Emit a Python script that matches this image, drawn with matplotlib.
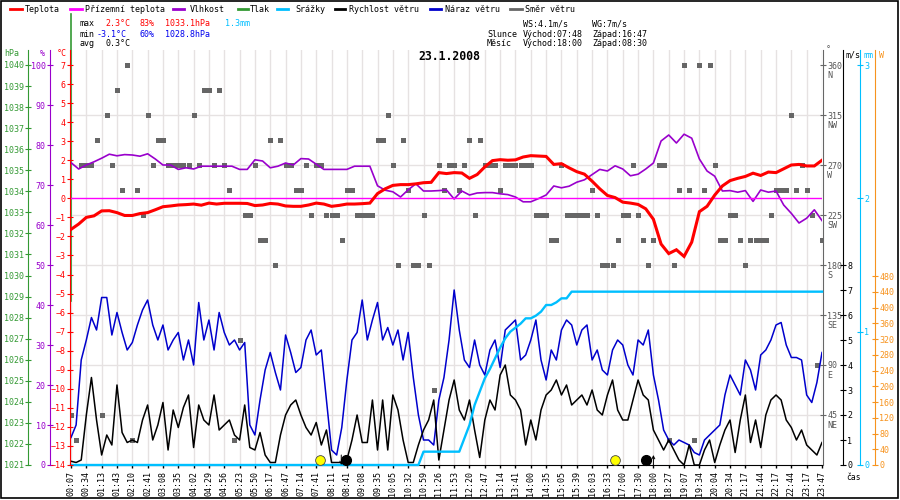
import numpy as np
import matplotlib
matplotlib.use("Agg")
import matplotlib.pyplot as plt
import matplotlib.transforms as mtransforms
from matplotlib.lines import Line2D
from matplotlib.patches import Rectangle

plt.rcParams['font.family'] = ['DejaVu Sans Mono', 'DejaVu Sans']
plt.rcParams['font.size'] = 6

# ---------------- data ----------------
tick_labels = ["00:07", "00:34", "01:13", "01:43", "02:10", "02:41", "03:08", "03:35", "04:02", "04:29",
               "04:56", "05:23", "05:50", "06:17", "06:47", "07:14", "07:41", "08:11", "08:41", "09:08",
               "09:35", "10:05", "10:32", "10:59", "11:26", "11:53", "12:20", "12:47", "13:14", "13:41",
               "14:00", "14:35", "15:05", "15:39", "16:03", "16:33", "17:00", "17:30", "18:00", "18:27",
               "19:07", "19:34", "20:04", "20:34", "21:17", "21:44", "22:17", "22:44", "23:17", "23:47"]

# temperature (deg C), two samples per tick interval
teplota = [-1.63, -1.35, -1.0, -0.92, -0.66, -0.65, -0.75, -0.9, -0.9, -0.8,
           -0.75, -0.6, -0.44, -0.4, -0.35, -0.33, -0.3, -0.36, -0.25, -0.3,
           -0.26, -0.26, -0.26, -0.27, -0.38, -0.35, -0.27, -0.3, -0.4, -0.42,
           -0.42, -0.35, -0.25, -0.3, -0.42, -0.37, -0.3, -0.3, -0.28, -0.25,
           0.25, 0.5, 0.68, 0.72, 0.72, 0.76, 0.82, 0.84, 1.35, 1.3,
           1.35, 1.33, 1.05, 1.25, 1.65, 1.98, 2.03, 2.0, 2.02, 2.17,
           2.24, 2.22, 2.2, 1.78, 1.82, 1.6, 1.4, 1.27, 0.9, 0.5,
           0.15, 0.04, -0.2, -0.25, -0.32, -0.55, -1.1, -2.4, -2.9, -2.7,
           -3.05, -2.3, -0.7, -0.42, 0.17, 0.65, 0.93, 1.05, 1.15, 1.32,
           1.2, 1.38, 1.35, 1.55, 1.75, 1.78, 1.7, 1.7, 2.0]
prizemni = [0.0] * 99
# humidity (%)
vlhkost = [75.6, 74.0, 75.0, 75.8, 76.7, 77.7, 77.3, 77.6, 77.5, 77.2,
           77.8, 76.5, 75.0, 75.0, 73.9, 74.3, 74.0, 74.7, 74.7, 74.7,
           74.7, 74.7, 73.9, 73.9, 76.3, 76.0, 74.3, 74.7, 75.5, 75.0,
           76.6, 76.5, 75.2, 73.9, 73.9, 73.9, 73.9, 74.7, 74.7, 74.7,
           69.8, 68.7, 68.3, 67.0, 68.8, 70.3, 68.5, 68.5, 68.6, 68.75,
           66.5, 68.5, 67.5, 68.0, 68.1, 68.1, 67.8, 67.6, 67.0, 65.8,
           65.8, 66.6, 67.5, 69.75, 69.3, 69.7, 70.7, 71.3, 72.6, 73.9,
           73.5, 74.8, 74.0, 72.3, 72.7, 74.0, 75.5, 81.0, 82.5, 80.5,
           82.7, 81.7, 76.5, 73.5, 72.2, 68.5, 68.6, 68.2, 68.6, 65.9,
           68.75, 68.2, 68.5, 65.0, 62.9, 60.5, 61.7, 63.8, 61.1]
# pressure (hPa) - drawn as the vertical green stroke at the start
tlak = [1028.8, 1042.4]
# wind gust (m/s), three samples per tick interval
naraz = [1.1, 1.6, 4.2, 5.0, 5.9, 5.4, 6.7, 6.7, 5.2, 6.1,
         5.3, 4.6, 4.9, 5.6, 6.2, 6.6, 5.6, 5.0, 5.6, 4.6,
         5.0, 5.3, 4.2, 5.0, 4.0, 6.5, 5.0, 5.8, 4.6, 6.1,
         5.3, 4.8, 5.0, 4.6, 4.9, 1.6, 1.2, 2.6, 3.8, 4.5,
         3.7, 3.0, 5.2, 4.5, 3.7, 3.9, 5.0, 5.4, 4.4, 4.6,
         2.6, 0.6, 0.4, 1.5, 3.4, 5.0, 5.3, 6.6, 5.0, 5.8,
         6.5, 5.0, 5.5, 4.8, 5.4, 4.2, 5.3, 3.5, 2.0, 1.0,
         1.0, 0.8, 2.6, 3.5, 5.0, 7.0, 5.4, 4.2, 3.9, 5.0,
         4.0, 3.6, 4.6, 5.0, 3.9, 5.4, 5.6, 5.8, 4.2, 4.4,
         5.0, 5.8, 4.2, 3.4, 4.6, 4.2, 5.4, 5.8, 5.6, 4.8,
         5.4, 5.6, 4.2, 4.6, 3.8, 3.6, 4.6, 5.0, 4.8, 4.0,
         3.6, 5.0, 4.8, 5.4, 3.6, 2.6, 1.4, 1.0, 0.8, 1.0,
         0.9, 0.8, 0.5, 0.4, 1.0, 1.2, 1.4, 1.6, 2.8, 3.6,
         3.2, 2.8, 4.2, 3.8, 3.0, 4.4, 4.6, 5.0, 5.6, 5.7,
         4.8, 4.3, 4.3, 4.2, 2.8, 2.5, 3.3, 4.5]
# wind speed (m/s)
rychlost = [0.15, 0.1, 0.2, 2.0, 3.5, 1.8, 0.4, 1.2, 0.8, 3.2,
            1.3, 0.9, 1.0, 0.9, 1.8, 2.4, 1.0, 1.6, 2.5, 0.6,
            2.2, 1.5, 2.3, 2.8, 0.7, 2.4, 1.8, 1.6, 2.8, 1.4,
            1.6, 1.8, 1.2, 1.0, 2.4, 0.7, 0.6, 1.3, 0.4, 0.1,
            0.1, 1.2, 2.0, 2.4, 2.6, 2.0, 1.5, 1.2, 1.7, 0.8,
            1.4, 0.1, 0.1, 0.1, 0.2, 1.0, 2.0, 0.9, 0.9, 2.6,
            0.6, 2.6, 0.6, 2.8, 2.2, 1.0, 0.1, 0.1, 0.8, 1.4,
            1.8, 2.6, 0.2, 1.4, 2.6, 3.4, 2.2, 1.8, 2.6, 1.4,
            0.3, 1.8, 2.6, 2.2, 3.6, 4.0, 2.8, 2.6, 2.2, 0.8,
            1.8, 1.0, 2.2, 2.8, 3.0, 3.4, 2.8, 3.2, 2.4, 2.6,
            2.8, 2.4, 3.0, 2.2, 2.0, 2.8, 3.4, 2.2, 1.8, 1.8,
            2.6, 3.4, 2.8, 2.6, 1.4, 1.0, 0.6, 1.0, 0.6, 0.2,
            0.0, 0.8, 0.0, 0.0, 0.6, 1.0, 0.1, 0.8, 1.4, 1.8,
            0.5, 1.8, 2.8, 0.9, 1.8, 0.7, 2.0, 2.6, 2.8, 2.6,
            1.8, 1.5, 1.0, 1.4, 0.8, 0.6, 0.4, 0.9]
# wind direction (deg)
smer = [45, 22.5, 270, 270, 270, 292.5, 45, 315, 270, 337.5,
        247.5, 360, 22.5, 247.5, 225, 315, 270, 292.5, 292.5, 270,
        270, 270, 270, 270, 315, 270, 337.5, 337.5, 270, 337.5,
        270, 247.5, 22.5, 112.5, 225, 225, 270, 202.5, 202.5, 292.5,
        180, 292.5, 270, 270, 247.5, 247.5, 270, 225, 270, 270,
        225, 225, 225, 202.5, 247.5, 247.5, 225, 225, 225, 225,
        292.5, 292.5, 315, 270, 180, 292.5, 247.5, 180, 180, 225,
        180, 67.5, 270, 247.5, 270, 270, 247.5, 270, 292.5, 225,
        292.5, 270, 270, 270, 247.5, 270, 270, 270, 270, 270,
        270, 225, 225, 225, 202.5, 202.5, 270, 225, 225, 225,
        225, 225, 247.5, 225, 180, 180, 180, 202.5, 225, 225,
        270, 225, 202.5, 180, 202.5, 270, 270, 22.5, 180, 247.5,
        360, 247.5, 22.5, 360, 247.5, 360, 270, 202.5, 202.5, 225,
        225, 202.5, 180, 202.5, 202.5, 202.5, 202.5, 225, 247.5, 247.5,
        247.5, 315, 247.5, 270, 247.5, 225, 90, 202.5]
# cumulative precipitation (mm)
srazky = ([0.0] * 69 + [0.1] * 8 +
          [0.2, 0.3, 0.45, 0.55, 0.65, 0.72, 0.8, 0.88, 0.95, 1.0,
           1.03, 1.06, 1.1, 1.1, 1.12, 1.15, 1.2, 1.2, 1.22, 1.25, 1.25] +
          [1.3] * 50)

sun_events = ["07:48", "16:47"]
moon_rise = "18:00"
moon_set = "08:30"

# ---------------- figure ----------------
W, H = 900, 500
L, R, B, T = 71, 822, 465, 50
fig = plt.figure(figsize=(9, 5), dpi=100)
fig.patch.set_facecolor('white')

GRID = '#e6e2e2'
C_T, C_PT, C_H, C_P = '#ff0000', '#ff00ff', '#9900cc', '#339933'
C_R, C_WS, C_WG, C_D, C_O = '#00bfff', '#000000', '#0000cc', '#666666', '#f7931e'

x_half = np.arange(len(teplota)) / 2.0
x_third = np.arange(len(naraz)) / 3.0
tick_pos = np.arange(len(tick_labels))
tick_min = np.array([int(s[:2]) * 60 + int(s[3:]) for s in tick_labels])


def t2x(s):
    return float(np.interp(int(s[:2]) * 60 + int(s[3:]), tick_min, tick_pos))


ax_d = fig.add_axes([L / W, 1 - B / H, (R - L) / W, (B - T) / H])
ax_d.set_zorder(0)
ax_d.set_xlim(tick_pos[0], tick_pos[-1])


def ypos(px):
    return (px - L) / (R - L)


def twin(z):
    a = ax_d.twinx()
    a.set_zorder(z)
    a.patch.set_visible(False)
    for s in a.spines.values():
        s.set_visible(False)
    return a


ax_w = twin(1)
ax_r = twin(2)
ax_o = twin(3)
ax_p = twin(4)
ax_h = twin(5)
ax_t = twin(6)

# host: direction
ax_d.set_ylim(0, 373.5)
for s in ['left', 'top']:
    ax_d.spines[s].set_visible(False)
ax_d.spines['right'].set_color(C_D)
ax_d.spines['right'].set_position(('axes', ypos(823)))
ax_d.spines['bottom'].set_color('black')
deg_ticks = [45, 90, 135, 180, 225, 270, 315, 360]
deg_names = ['NE', 'E', 'SE', 'S', 'SW', 'W', 'NW', 'N']
ax_d.yaxis.tick_right()
ax_d.set_yticks(deg_ticks)
ax_d.set_yticklabels([str(d) for d in deg_ticks])
ax_d.tick_params(axis='y', direction='inout', length=4, width=0.8, colors=C_D, labelcolor='#555555', pad=1, labelsize=6)
ax_d.set_xticks(tick_pos)
ax_d.set_xticklabels(tick_labels)
ax_d.tick_params(axis='x', direction='out', length=2, width=1, pad=2, labelrotation=90, labelsize=6)
ax_d.grid(True, color=GRID, lw=1, zorder=0)
ax_d.yaxis.grid(False)
for d in deg_ticks[:-1]:
    ax_d.axhline(d, color=GRID, lw=1, zorder=0)
off = mtransforms.ScaledTranslation(4 / 100, -10 / 100, fig.dpi_scale_trans)
bt = mtransforms.blended_transform_factory(ax_d.transAxes, ax_d.transData)
for d, n in zip(deg_ticks, deg_names):
    ax_d.text(ypos(823), d, n, transform=bt + off, ha='left', va='center', color='#555555', fontsize=6, clip_on=False)
ax_d.plot(x_third, smer, 's', color=C_D, ms=3.6, mew=0, zorder=2)

# wind m/s
ax_w.set_ylim(0, 16.6)
ax_w.spines['right'].set_visible(True)
ax_w.spines['right'].set_position(('axes', ypos(843)))
ax_w.spines['right'].set_color('black')
ax_w.set_yticks(range(0, 9))
ax_w.tick_params(axis='y', direction='inout', length=4, width=0.8, colors='black', pad=1, labelsize=6)
ax_w.plot(x_third, naraz, color=C_WG, lw=1.1)
ax_w.plot(x_third, rychlost, color=C_WS, lw=1.1)

# precipitation mm
ax_r.set_ylim(0, 3.1125)
ax_r.spines['right'].set_visible(True)
ax_r.spines['right'].set_position(('axes', ypos(860)))
ax_r.spines['right'].set_color(C_R)
ax_r.set_yticks(range(0, 4))
ax_r.tick_params(axis='y', direction='inout', length=4, width=0.8, colors=C_R, pad=1, labelsize=6)
ax_r.plot(x_third, srazky, color=C_R, lw=1.7, clip_on=False)

# W (orange)
ax_o.set_ylim(0, 1054)
ax_o.spines['right'].set_visible(True)
ax_o.spines['right'].set_position(('axes', ypos(875)))
ax_o.spines['right'].set_color(C_O)
ax_o.set_yticks(range(0, 481, 40))
ax_o.tick_params(axis='y', direction='inout', length=4, width=0.8, colors=C_O, pad=1, labelsize=6)


def left_axis(a, px, color):
    a.yaxis.tick_left()
    a.yaxis.set_label_position('left')
    a.spines['left'].set_visible(True)
    a.spines['left'].set_position(('axes', ypos(px)))
    a.spines['left'].set_color(color)
    a.tick_params(axis='y', which='both', left=True, right=False, labelleft=True, labelright=False,
                  direction='inout', length=4, width=0.8, colors=color, pad=1, labelsize=6)


# pressure
ax_p.set_ylim(1021, 1040.7125)
left_axis(ax_p, 28, C_P)
ax_p.set_yticks(range(1021, 1041))
ax_p.plot([0, 0], tlak, color=C_P, lw=1.2, clip_on=False, zorder=5)

# humidity
ax_h.set_ylim(0, 103.75)
left_axis(ax_h, 50, C_H)
ax_h.set_yticks(range(0, 101, 10))
ax_h.plot(x_half, vlhkost, color=C_H, lw=1.2)

# temperature
ax_t.set_ylim(-14, 7.7875)
left_axis(ax_t, 70, C_T)
ax_t.set_yticks(range(-14, 8))
ax_t.plot(x_half, prizemni, color=C_PT, lw=1)
ax_t.plot(x_half, teplota, color=C_T, lw=2.2, solid_joinstyle='miter')

# sun / moon markers
bx = mtransforms.blended_transform_factory(ax_t.transData, ax_t.transAxes)
ybase = 5 / (B - T)
ax_t.plot([t2x(s) for s in sun_events], [ybase] * len(sun_events), 'o', ms=7, mfc='#ffff00', mec='#444444',
          mew=0.6, transform=bx, clip_on=False, zorder=10)
k_set, k_rise = t2x(moon_set), t2x(moon_rise)
ax_t.plot([k_set], [ybase], 'o', ms=7, mfc='black', mec='black', transform=bx +
          mtransforms.ScaledTranslation(5 / 100, 0, fig.dpi_scale_trans), clip_on=False, zorder=10)
ax_t.plot([k_rise], [ybase], 'o', ms=7, mfc='black', mec='black', transform=bx +
          mtransforms.ScaledTranslation(-7 / 100, 0, fig.dpi_scale_trans), clip_on=False, zorder=10)
ah = 10 / (B - T)
ax_t.annotate('', xy=(k_rise, ah), xytext=(k_rise, 0), xycoords=bx, textcoords=bx,
              arrowprops=dict(arrowstyle='->', lw=0.7, color='black', shrinkA=0, shrinkB=0, mutation_scale=5))
ax_t.annotate('', xy=(k_set, 0), xytext=(k_set, ah), xycoords=bx, textcoords=bx,
              arrowprops=dict(arrowstyle='->', lw=0.7, color='black', shrinkA=0, shrinkB=0, mutation_scale=5))

# ---------------- texts ----------------
def ft(x, y, s, **kw):
    fig.text(x / W, 1 - y / H, s, va='center', ha=kw.pop('ha', 'left'), fontsize=kw.pop('fontsize', 6), **kw)


legend_items = [("Teplota", C_T, 10, 22, 25), ("Přízemní teplota", C_PT, 70, 82, 85),
                ("Vlhkost", C_H, 173, 184, 190), ("Tlak", C_P, 238, 248, 250),
                ("Srážky", C_R, 277, 288, 295), ("Rychlost větru", C_WS, 335, 345, 349),
                ("Náraz větru", C_WG, 430, 441, 445), ("Směr větru", C_D, 510, 522, 525)]
for lab, col, x0, x1, xt in legend_items:
    fig.add_artist(Line2D([x0 / W, x1 / W], [1 - 9 / H, 1 - 9 / H], color=col, lw=2, transform=fig.transFigure))
    ft(xt, 9, lab)

ft(80, 24, "max")
ft(105, 24, "2.3°C", color=C_T)
ft(140, 24, "83%", color=C_T)
ft(165, 24, "1033.1hPa", color=C_T)
ft(225, 24, "1.3mm", color=C_R)
ft(80, 34, "min")
ft(97, 34, "-3.1°C", color='#0000ee')
ft(140, 34, "60%", color='#0000ee')
ft(165, 34, "1028.8hPa", color='#0000ee')
ft(80, 43, "avg")
ft(105, 43, "0.3°C")

ft(523, 24, "WS:4.1m/s")
ft(592, 24, "WG:7m/s")
ft(487, 34, "Slunce")
ft(523, 34, "Východ:07:48")
ft(592, 34, "Západ:16:47")
ft(487, 43, "Měsíc")
ft(523, 43, "Východ:18:00")
ft(592, 43, "Západ:08:30")

ft(449, 57, "23.1.2008", ha='center', fontsize=8.3, fontweight='bold')

ft(12, 53, "hPa", ha='center', color=C_P)
ft(42, 53, "%", ha='center', color=C_H)
ft(62, 53, "°C", ha='center', color=C_T)
ft(826, 50, "°", color='#555555')
ft(845, 55, "m/s", color='black')
ft(863, 55, "mm", color=C_R)
ft(879, 55, "W", color=C_O)
ft(846, 477, "čas", color='black', fontsize=5.8)

fig.add_artist(Rectangle((0.5 / W, 1 - 498 / H), 897.5 / W, 497 / H, transform=fig.transFigure,
                         fill=False, edgecolor='black', lw=1.2))

fig.savefig("out.png", dpi=100)
